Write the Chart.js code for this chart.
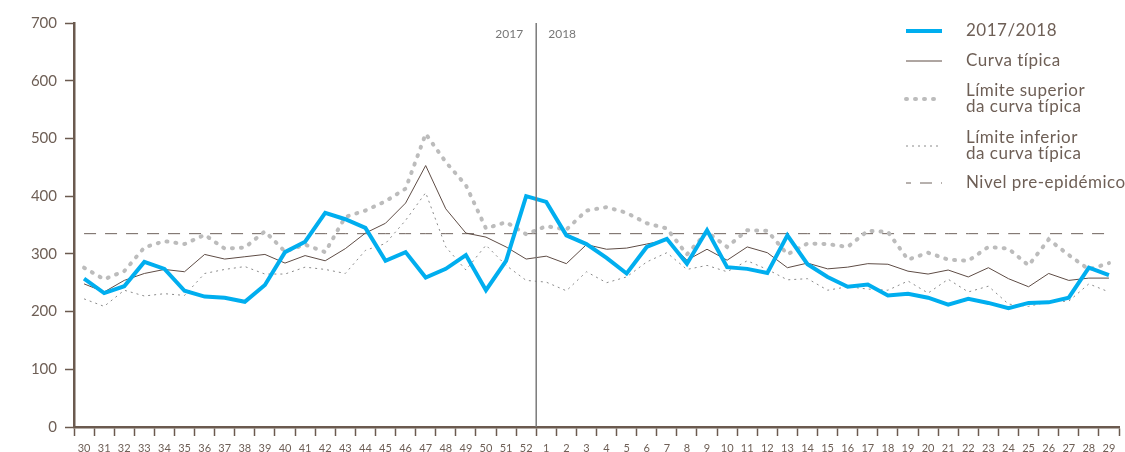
<!DOCTYPE html>
<html>
<head>
<meta charset="utf-8">
<script src="https://cdn.jsdelivr.net/npm/chart.js@4"></script>
<style>
  html, body { margin: 0; padding: 0; background: #fff; }
  #wrap { width: 1125px; height: 452px; }
</style>
</head>
<body>
<div id="wrap"><canvas id="fluChart"></canvas></div>
<script>
// weeks 30..52 of 2017, then 1..29 of 2018
const weeks = ['30','31','32','33','34','35','36','37','38','39','40','41','42','43','44','45','46','47','48','49','50','51','52',
               '1','2','3','4','5','6','7','8','9','10','11','12','13','14','15','16','17','18','19','20','21','22','23','24','25','26','27','28','29'];

const season = [257,232,244,286,274,236,226,224,217,246,303,321,371,360,345,288,303,259,274,298,237,288,400,
                390,332,317,293,266,312,326,283,341,277,274,267,332,282,260,243,247,228,231,224,212,222,215,206,215,216,224,276,263];

const typical = [248,234,254,266,273,269,299,291,295,299,284,297,288,309,336,353,388,453,378,336,329,312,291,
                 296,283,316,308,310,317,324,289,308,289,312,302,276,284,274,277,283,282,270,265,272,260,276,257,243,266,254,258,258];

const upper = [276,256,270,311,322,317,333,309,311,339,304,316,303,364,375,391,413,508,459,419,344,355,334,
               348,342,375,381,371,353,344,299,338,312,341,340,299,318,317,312,340,338,290,302,290,288,312,309,280,325,298,273,284];

const lower = [222,209,237,227,231,228,266,273,278,265,265,277,273,266,306,318,358,406,312,272,315,280,254,
               251,236,269,250,260,286,302,273,280,269,288,273,255,257,237,243,239,237,253,232,256,234,244,213,209,217,218,248,234];

const preEpidemic = 335;
const yTicks = [0, 100, 200, 300, 400, 500, 600, 700];

const axisColor = '#6b5a4f';
const textColor = '#6e5f56';
const fontFamily = 'Lato, "Open Sans", sans-serif';

// separator between 2017 and 2018, year captions, and the legend on the right
const extrasPlugin = {
    id: 'extras',
    afterDraw(chart) {
        const ctx = chart.ctx;
        const xs = chart.scales.x;
        const area = chart.chartArea;
        const sepX = (xs.getPixelForValue(22) + xs.getPixelForValue(23)) / 2;

        ctx.save();
        ctx.strokeStyle = '#7a7a7a';
        ctx.lineWidth = 1.5;
        ctx.beginPath();
        ctx.moveTo(sepX, area.top);
        ctx.lineTo(sepX, area.bottom);
        ctx.stroke();

        ctx.fillStyle = '#777';
        ctx.font = '12px ' + fontFamily;
        ctx.textBaseline = 'middle';
        ctx.textAlign = 'right';
        ctx.fillText('2017', sepX - 13, 34);
        ctx.textAlign = 'left';
        ctx.fillText('2018', sepX + 12, 34);

        // legend
        const rows = [31, 61, 99, 146, 183];
        const x0 = 906, x1 = 942, tx = 966;
        ctx.font = '17px ' + fontFamily;
        ctx.letterSpacing = '0.5px';
        ctx.fillStyle = textColor;
        chart.data.datasets.forEach((ds, i) => {
            const y = rows[i];
            ctx.save();
            ctx.strokeStyle = ds.borderColor;
            ctx.lineWidth = ds.borderWidth;
            ctx.lineCap = ds.borderCapStyle || 'butt';
            ctx.setLineDash(ds.borderDash || []);
            ctx.lineDashOffset = ds.legendDashOffset || 0;
            ctx.beginPath();
            ctx.moveTo(x0, y);
            ctx.lineTo(x1, y);
            ctx.stroke();
            ctx.restore();

            const lines = ds.label.split('\n');
            const lh = 16;
            lines.forEach((t, j) => {
                ctx.fillText(t, tx, y - (lines.length - 1) * lh / 2 + j * lh);
            });
        });
        ctx.restore();
    }
};

new Chart(document.getElementById('fluChart'), {
    type: 'line',
    data: {
        labels: weeks,
        datasets: [{
            label: '2017/2018',
            data: season,
            borderColor: '#00aeef',
            borderWidth: 4,
            borderJoinStyle: 'miter',
            order: 0
        }, {
            label: 'Curva típica',
            data: typical,
            borderColor: '#5e4c45',
            borderWidth: 1,
            order: 1
        }, {
            label: 'Límite superior\nda curva típica',
            data: upper,
            borderColor: '#bcbcbc',
            borderWidth: 4,
            borderDash: [1, 8],
            borderCapStyle: 'round',
            order: 3
        }, {
            label: 'Límite inferior\nda curva típica',
            data: lower,
            borderColor: '#8a8a8a',
            borderWidth: 1,
            borderDash: [2, 4],
            order: 2
        }, {
            label: 'Nivel pre-epidémico',
            data: weeks.map(() => preEpidemic),
            borderColor: '#6e625c',
            borderWidth: 1,
            borderDash: [12, 9],
            legendDashOffset: 7,
            order: 4
        }]
    },
    options: {
        responsive: true,
        maintainAspectRatio: false,
        animation: false,
        events: [],
        elements: {
            point: { radius: 0 },
            line: { tension: 0, fill: false }
        },
        layout: { padding: { top: 23, right: 6, left: 0, bottom: 0 } },
        plugins: {
            legend: { display: false },
            tooltip: { enabled: false }
        },
        scales: {
            x: {
                offset: true,
                afterFit(scale) { scale.height = 25; },
                grid: {
                    offset: true,
                    drawOnChartArea: false,
                    tickLength: 9,
                    tickColor: axisColor,
                    tickWidth: 1.5
                },
                border: { color: axisColor, width: 2.5 },
                ticks: {
                    color: textColor,
                    font: { family: fontFamily, size: 11 },
                    autoSkip: false,
                    maxRotation: 0,
                    padding: 6
                }
            },
            y: {
                min: 0,
                max: 700,
                afterFit(scale) { scale.width = 74; },
                afterBuildTicks(scale) { scale.ticks = yTicks.map(v => ({ value: v })); },
                grid: {
                    drawOnChartArea: false,
                    tickLength: 9,
                    tickColor: axisColor,
                    tickWidth: 1.5
                },
                border: { color: axisColor, width: 2.5 },
                ticks: {
                    color: textColor,
                    font: { family: fontFamily, size: 15 },
                    padding: 8
                }
            }
        }
    },
    plugins: [extrasPlugin]
});
</script>
</body>
</html>
